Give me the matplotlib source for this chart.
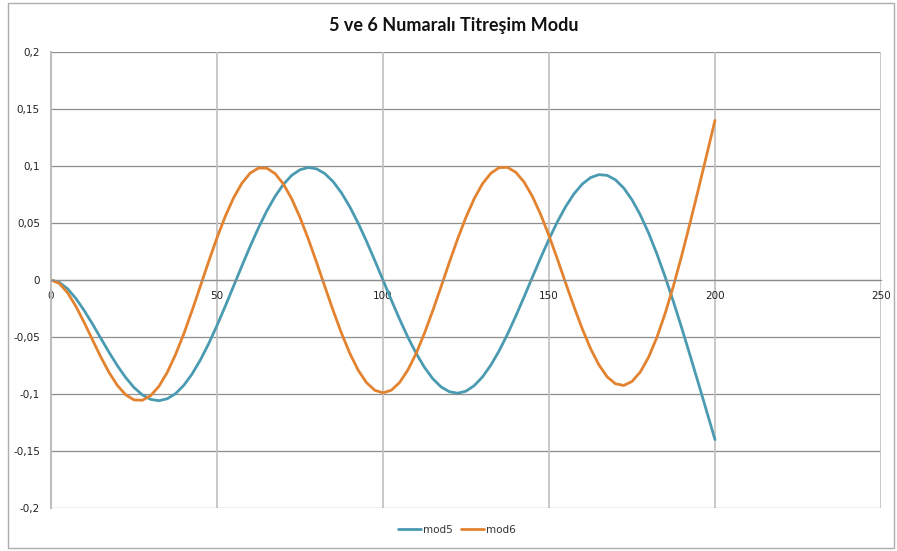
import numpy as np
import matplotlib
matplotlib.use("Agg")
import matplotlib.pyplot as plt
from matplotlib.patches import Rectangle

# konum (0..200, adim 2.5)
x = np.arange(0, 200.01, 2.5)

mod5 = [0.0, -0.0021, -0.0077, -0.0162, -0.0268, -0.0386, -0.0511, -0.0635,
        -0.0752, -0.0856, -0.0943, -0.1007, -0.1047, -0.1059, -0.1042, -0.0997,
        -0.0924, -0.0824, -0.0701, -0.0558, -0.0399, -0.0229, -0.0053, 0.0124,
        0.0296, 0.0458, 0.0606, 0.0734, 0.0839, 0.0918, 0.0967, 0.0987,
        0.0975, 0.0933, 0.0862, 0.0764, 0.0642, 0.0500, 0.0342, 0.0173,
        -0.0001, -0.0175, -0.0344, -0.0502, -0.0644, -0.0767, -0.0866, -0.0938,
        -0.0980, -0.0993, -0.0975, -0.0926, -0.0849, -0.0746, -0.0620, -0.0475,
        -0.0316, -0.0148, 0.0025, 0.0195, 0.0358, 0.0509, 0.0643, 0.0755,
        0.0841, 0.0898, 0.0924, 0.0918, 0.0879, 0.0807, 0.0704, 0.0571,
        0.0412, 0.0229, 0.0026, -0.0192, -0.0423, -0.0662, -0.0906, -0.1153,
        -0.1400]

mod6 = [0.0, -0.0030, -0.0112, -0.0231, -0.0373, -0.0525, -0.0675, -0.0812,
        -0.0925, -0.1007, -0.1052, -0.1055, -0.1015, -0.0933, -0.0811, -0.0655,
        -0.0472, -0.0268, -0.0053, 0.0163, 0.0370, 0.0559, 0.0721, 0.0849,
        0.0938, 0.0982, 0.0981, 0.0933, 0.0842, 0.0712, 0.0549, 0.0360,
        0.0154, -0.0059, -0.0269, -0.0467, -0.0643, -0.0790, -0.0899, -0.0967,
        -0.0990, -0.0967, -0.0899, -0.0789, -0.0643, -0.0466, -0.0268, -0.0058,
        0.0156, 0.0362, 0.0551, 0.0715, 0.0846, 0.0937, 0.0986, 0.0988,
        0.0945, 0.0859, 0.0733, 0.0574, 0.0388, 0.0186, -0.0025, -0.0232,
        -0.0427, -0.0601, -0.0743, -0.0849, -0.0910, -0.0925, -0.0890, -0.0807,
        -0.0677, -0.0503, -0.0292, -0.0050, 0.0217, 0.0502, 0.0797, 0.1098,
        0.1400]

xticks = [0, 50, 100, 150, 200, 250]
yticks = [-0.2, -0.15, -0.1, -0.05, 0, 0.05, 0.1, 0.15, 0.2]
ylabels = ['-0,2', '-0,15', '-0,1', '-0,05', '0', '0,05', '0,1', '0,15', '0,2']

plt.rcParams['font.family'] = ['DejaVu Sans']

fig = plt.figure(figsize=(8.97, 5.51), dpi=100)
ax = fig.add_axes([51 / 897, 43 / 551, 830 / 897, 456 / 551])

# dis cerceve
fig.patches.append(Rectangle((8 / 897, 3 / 551), 886 / 897, 545 / 551,
                             transform=fig.transFigure, fill=False,
                             edgecolor='#ADADAD', linewidth=1.0))

ax.plot(x, mod5, color='#4A9BB1', linewidth=2.0, label='mod5', solid_capstyle='round')
ax.plot(x, mod6, color='#E3822F', linewidth=2.0, label='mod6', solid_capstyle='round')

ax.set_xlim(0, 250)
ax.set_ylim(-0.2, 0.2)
ax.set_xticks(xticks)
ax.set_yticks(yticks)
ax.set_yticklabels(ylabels)

for yv in yticks:
    ax.axhline(yv, color='#8E8E8E', linewidth=0.9, zorder=0)
for xv in xticks[1:]:
    ax.axvline(xv, color='#C4C4C4', linewidth=1.3, zorder=0)

for s in ['top', 'right']:
    ax.spines[s].set_visible(False)
ax.spines['left'].set_color('#BEBEBE')
ax.spines['left'].set_linewidth(1.5)
ax.spines['bottom'].set_position(('data', 0))
ax.spines['bottom'].set_color('#8E8E8E')
ax.spines['bottom'].set_linewidth(0.9)

ax.tick_params(axis='both', length=0, labelsize=7.5, colors='#222222')
ax.tick_params(axis='y', pad=8)
ax.tick_params(axis='x', pad=8)

fig.text(454 / 897, 1 - 25 / 551, '5 ve 6 Numaralı Titreşim Modu', ha='center', va='center',
         fontsize=13, fontweight='bold', family=['Lato', 'DejaVu Sans'], color='#111111')

ax.legend(loc='center', bbox_to_anchor=(457 / 897, 1 - 530 / 551), bbox_transform=fig.transFigure,
          ncol=2, frameon=False, fontsize=7.5, handlelength=2.2, handletextpad=0.2,
          columnspacing=0.8, labelcolor='#333333')

fig.savefig('out.png', dpi=100)
